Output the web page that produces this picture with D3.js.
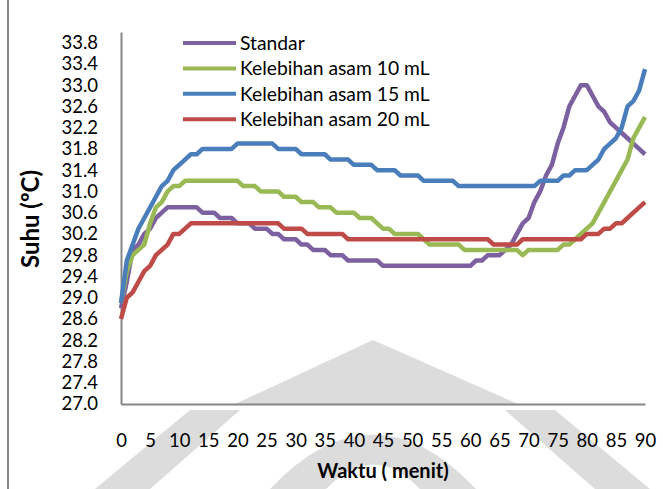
<!DOCTYPE html>
<html>
<head>
<meta charset="utf-8">
<script src="https://cdn.jsdelivr.net/npm/d3@7"></script>
<style>
    body { margin: 0; background: #fff; }
    svg { display: block; font-family: Lato, "Open Sans", sans-serif; }
</style>
</head>
<body>
<div class="visHolder"></div>
<script>
// minutes 0..90, one reading per minute
const minutes = d3.range(0, 91);

const seriesNames = ["Standar", "Kelebihan asam 10 mL", "Kelebihan asam 15 mL", "Kelebihan asam 20 mL"];

const standar = [
    28.8, 29.3, 29.9, 30.0, 30.2, 30.3, 30.5, 30.6, 30.7, 30.7,
    30.7, 30.7, 30.7, 30.7, 30.6, 30.6, 30.6, 30.5, 30.5, 30.5,
    30.4, 30.4, 30.4, 30.3, 30.3, 30.3, 30.2, 30.2, 30.1, 30.1,
    30.1, 30.0, 30.0, 29.9, 29.9, 29.9, 29.8, 29.8, 29.8, 29.7,
    29.7, 29.7, 29.7, 29.7, 29.7, 29.6, 29.6, 29.6, 29.6, 29.6,
    29.6, 29.6, 29.6, 29.6, 29.6, 29.6, 29.6, 29.6, 29.6, 29.6,
    29.6, 29.7, 29.7, 29.8, 29.8, 29.8, 29.9, 30.0, 30.2, 30.4,
    30.5, 30.8, 31.0, 31.3, 31.5, 31.9, 32.2, 32.6, 32.8, 33.0,
    33.0, 32.8, 32.6, 32.5, 32.3, 32.2, 32.1, 32.0, 31.9, 31.8,
    31.7
];

const asam10 = [
    28.9, 29.5, 29.8, 29.9, 30.0, 30.4, 30.7, 30.8, 31.0, 31.1,
    31.1, 31.2, 31.2, 31.2, 31.2, 31.2, 31.2, 31.2, 31.2, 31.2,
    31.2, 31.1, 31.1, 31.1, 31.0, 31.0, 31.0, 31.0, 30.9, 30.9,
    30.9, 30.8, 30.8, 30.8, 30.7, 30.7, 30.7, 30.6, 30.6, 30.6,
    30.6, 30.5, 30.5, 30.5, 30.4, 30.3, 30.3, 30.2, 30.2, 30.2,
    30.2, 30.2, 30.1, 30.0, 30.0, 30.0, 30.0, 30.0, 30.0, 29.9,
    29.9, 29.9, 29.9, 29.9, 29.9, 29.9, 29.9, 29.9, 29.9, 29.8,
    29.9, 29.9, 29.9, 29.9, 29.9, 29.9, 30.0, 30.0, 30.1, 30.2,
    30.3, 30.4, 30.6, 30.8, 31.0, 31.2, 31.4, 31.6, 32.0, 32.2,
    32.4
];

const asam15 = [
    28.9, 29.7, 30.0, 30.3, 30.5, 30.7, 30.9, 31.1, 31.2, 31.4,
    31.5, 31.6, 31.7, 31.7, 31.8, 31.8, 31.8, 31.8, 31.8, 31.8,
    31.9, 31.9, 31.9, 31.9, 31.9, 31.9, 31.9, 31.8, 31.8, 31.8,
    31.8, 31.7, 31.7, 31.7, 31.7, 31.7, 31.6, 31.6, 31.6, 31.6,
    31.5, 31.5, 31.5, 31.5, 31.4, 31.4, 31.4, 31.4, 31.3, 31.3,
    31.3, 31.3, 31.2, 31.2, 31.2, 31.2, 31.2, 31.2, 31.1, 31.1,
    31.1, 31.1, 31.1, 31.1, 31.1, 31.1, 31.1, 31.1, 31.1, 31.1,
    31.1, 31.1, 31.2, 31.2, 31.2, 31.2, 31.3, 31.3, 31.4, 31.4,
    31.4, 31.5, 31.6, 31.8, 31.9, 32.0, 32.2, 32.6, 32.7, 32.9,
    33.3
];

const asam20 = [
    28.6, 29.0, 29.1, 29.3, 29.5, 29.6, 29.8, 29.9, 30.0, 30.2,
    30.2, 30.3, 30.4, 30.4, 30.4, 30.4, 30.4, 30.4, 30.4, 30.4,
    30.4, 30.4, 30.4, 30.4, 30.4, 30.4, 30.4, 30.4, 30.3, 30.3,
    30.3, 30.3, 30.2, 30.2, 30.2, 30.2, 30.2, 30.2, 30.2, 30.1,
    30.1, 30.1, 30.1, 30.1, 30.1, 30.1, 30.1, 30.1, 30.1, 30.1,
    30.1, 30.1, 30.1, 30.1, 30.1, 30.1, 30.1, 30.1, 30.1, 30.1,
    30.1, 30.1, 30.1, 30.1, 30.0, 30.0, 30.0, 30.0, 30.0, 30.1,
    30.1, 30.1, 30.1, 30.1, 30.1, 30.1, 30.1, 30.1, 30.1, 30.1,
    30.2, 30.2, 30.2, 30.3, 30.3, 30.4, 30.4, 30.5, 30.6, 30.7,
    30.8
];

const xTicks = [0, 5, 10, 15, 20, 25, 30, 35, 40, 45, 50, 55, 60, 65, 70, 75, 80, 85, 90];
const yTicks = [27.0, 27.4, 27.8, 28.2, 28.6, 29.0, 29.4, 29.8, 30.2, 30.6, 31.0, 31.4, 31.8, 32.2, 32.6, 33.0, 33.4, 33.8];

document.addEventListener("DOMContentLoaded", () => {
    const fullWidth = 663;
    const fullHeight = 489;
    const colors = ["#7d60a0", "#98b954", "#4a7ebb", "#be4b48"];
    const allSeries = [standar, asam10, asam15, asam20];

    const xScale = d3.scaleLinear()
        .domain([0, 90])
        .range([121, 645]);
    const yScale = d3.scaleLinear()
        .domain([27, 34])
        .range([404, 32]);

    const svg = d3.select(".visHolder")
        .append("svg")
        .attr("width", fullWidth)
        .attr("height", fullHeight);

    // faint watermark behind the chart
    const wm = svg.append("g").attr("fill", "#dcdcdc");
    wm.append("path")
        .attr("d", "M373,340 L235,404 L518,404 Z");
    wm.append("path")
        .attr("d", "M190,410 L240,410 L150,489 L95,489 Z");
    wm.append("path")
        .attr("d", "M555,410 L505,410 L595,489 L650,489 Z");
    wm.append("path")
        .attr("d", "M270,489 Q373,380 476,489 L420,489 Q373,440 326,489 Z");

    // left edge of the chart area
    svg.append("line")
        .attr("x1", 8)
        .attr("x2", 8)
        .attr("y1", 0)
        .attr("y2", fullHeight)
        .attr("stroke", "#868686")
        .attr("stroke-width", 2);

    // axes (lines only, no ticks)
    const xAxis = d3.axisBottom(xScale)
        .tickValues(xTicks)
        .tickSize(0)
        .tickPadding(30)
        .tickFormat(d3.format("d"));
    const yAxis = d3.axisLeft(yScale)
        .tickValues(yTicks)
        .tickSize(0)
        .tickPadding(23)
        .tickFormat(d3.format(".1f"));

    svg.append("g")
        .attr("id", "x-axis")
        .attr("transform", "translate(0,404)")
        .call(xAxis);
    svg.append("g")
        .attr("id", "y-axis")
        .attr("transform", "translate(121,0)")
        .call(yAxis);

    svg.selectAll(".domain")
        .attr("stroke", "#868686")
        .attr("stroke-width", 2);
    svg.selectAll(".tick text")
        .style("font-family", "Lato, sans-serif")
        .style("font-size", "18.5px")
        .attr("fill", "#000");
    svg.select("#x-axis").selectAll(".tick text")
        .attr("dy", "0.35em")
        .attr("y", 37);

    const line = d3.line()
        .x((d, i) => xScale(minutes[i]))
        .y(d => yScale(d));

    svg.selectAll(".series")
        .data(allSeries)
        .enter()
        .append("path")
        .attr("class", "series")
        .attr("d", d => line(d))
        .attr("fill", "none")
        .attr("stroke", (d, i) => colors[i])
        .attr("stroke-width", 4.5)
        .attr("stroke-linejoin", "round");

    const legend = svg.append("g").attr("id", "legend");
    seriesNames.forEach((name, i) => {
        const y = 43 + i * 25.4;
        legend.append("line")
            .attr("x1", 183)
            .attr("x2", 236)
            .attr("y1", y)
            .attr("y2", y)
            .attr("stroke", colors[i])
            .attr("stroke-width", 4);
        legend.append("text")
            .attr("x", 240)
            .attr("y", y)
            .attr("dy", "0.35em")
            .style("font-size", "19.3px")
            .text(name);
    });

    svg.append("text")
        .attr("x", 383)
        .attr("y", 471)
        .attr("dy", "0.35em")
        .attr("text-anchor", "middle")
        .style("font-size", "20px")
        .style("font-weight", "bold")
        .text("Waktu ( menit)");

    svg.append("text")
        .attr("transform", "translate(31,219) rotate(-90)")
        .attr("dy", "0.35em")
        .attr("text-anchor", "middle")
        .style("font-size", "24px")
        .style("font-weight", "bold")
        .text("Suhu (ºC)");
});
</script>
</body>
</html>
